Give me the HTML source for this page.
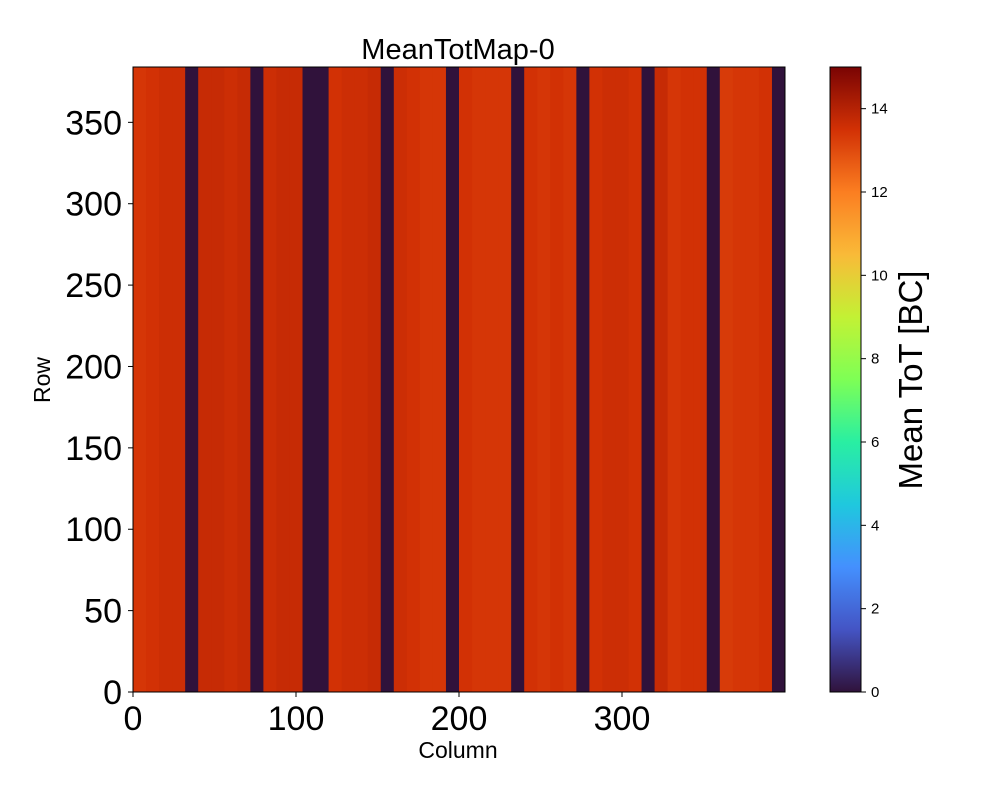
<!DOCTYPE html>
<html><head><meta charset="utf-8"><style>
body{margin:0;background:#fff;}
svg text{font-family:"Liberation Sans",sans-serif;fill:#000;}
</style></head><body>
<svg id="chart" width="1000" height="800" viewBox="0 0 1000 800" xmlns="http://www.w3.org/2000/svg">
<defs><linearGradient id="cbgrad" x1="0" y1="1" x2="0" y2="0"></linearGradient></defs>
<text x="458" y="59" font-size="29" text-anchor="middle">MeanTotMap-0</text>
<g id="heat"></g>
<rect x="133" y="67" width="652" height="625" fill="none" stroke="#000" stroke-width="1"/>
<g id="xaxis"></g>
<g id="yaxis"></g>
<text x="458" y="758" font-size="23" text-anchor="middle">Column</text>
<text transform="translate(50,380) rotate(-90)" font-size="23" text-anchor="middle">Row</text>
<rect x="830" y="67" width="31" height="625" fill="url(#cbgrad)" stroke="#000" stroke-width="1"/>
<g id="cbaxis"></g>
<text transform="translate(922,380) rotate(-90)" font-size="33" text-anchor="middle">Mean ToT [BC]</text>
</svg>
<script>
const NS="http://www.w3.org/2000/svg";
// per 8-column block mean ToT (50 blocks, 400 columns)
const blockValues=[13.4,13.5,13.6,13.6,0,13.7,13.7,13.6,13.7,0,13.6,13.7,13.7,0,0,13.5,13.6,13.6,13.7,0,13.6,13.5,13.4,13.4,0,13.5,13.4,13.4,13.4,0,13.5,13.4,13.5,13.4,0,13.5,13.6,13.6,13.5,0,13.7,13.4,13.5,13.5,0,13.3,13.4,13.4,13.5,0];
const xTicks=[0,100,200,300];
const yTicks=[0,50,100,150,200,250,300,350];
const cbTicks=[0,2,4,6,8,10,12,14];
const nCols=400,nRows=384,vmax=15;
const x=c=>133+c*652/nCols;
const y=r=>692-r*625/nRows;
const cy=v=>692-v*625/vmax;
const lut=[[48,18,59],[68,84,196],[68,144,254],[31,200,222],[41,239,162],[126,255,85],[195,241,52],[249,186,56],[251,126,33],[210,49,5],[122,4,3]];
function turbo(t){t=Math.max(0,Math.min(1,t))*10;const i=Math.min(9,Math.floor(t)),f=t-i;
const c=lut[i].map((v,k)=>Math.round(v+(lut[i+1][k]-v)*f));return `rgb(${c[0]},${c[1]},${c[2]})`;}
const heat=document.getElementById('heat');
blockValues.forEach((v,i)=>{const e=document.createElementNS(NS,'rect');
e.setAttribute('x',x(i*8));e.setAttribute('y',y(nRows));e.setAttribute('width',x(i*8+8)-x(i*8)+0.5);e.setAttribute('height',y(0)-y(nRows));
e.setAttribute('fill',turbo(v/vmax));


heat.appendChild(e);});
const gr=document.getElementById('cbgrad');
for(let i=0;i<=40;i++){const s=document.createElementNS(NS,'stop');s.setAttribute('offset',i/40);s.setAttribute('stop-color',turbo(i/40));gr.appendChild(s);}
function tick(g,x1,y1,x2,y2,tx,ty,txt,fs,anchor,name){
const l=document.createElementNS(NS,'line');l.setAttribute('x1',x1);l.setAttribute('y1',y1);l.setAttribute('x2',x2);l.setAttribute('y2',y2);l.setAttribute('stroke','#000');g.appendChild(l);
const t=document.createElementNS(NS,'text');t.setAttribute('x',tx);t.setAttribute('y',ty);t.setAttribute('font-size',fs);t.setAttribute('text-anchor',anchor);t.textContent=txt;


g.appendChild(t);}
const xa=document.getElementById('xaxis');
xTicks.forEach(v=>tick(xa,x(v),692,x(v),697,x(v),730,v,34,'middle','x-tick-label'));
const ya=document.getElementById('yaxis');
yTicks.forEach(v=>tick(ya,128,y(v),133,y(v),122,y(v)+12,v,34,'end','y-tick-label'));
const ca=document.getElementById('cbaxis');
cbTicks.forEach(v=>tick(ca,861,cy(v),866,cy(v),871,cy(v)+5,v,15,'start','colorbar-tick-label'));
</script>
</body></html>
